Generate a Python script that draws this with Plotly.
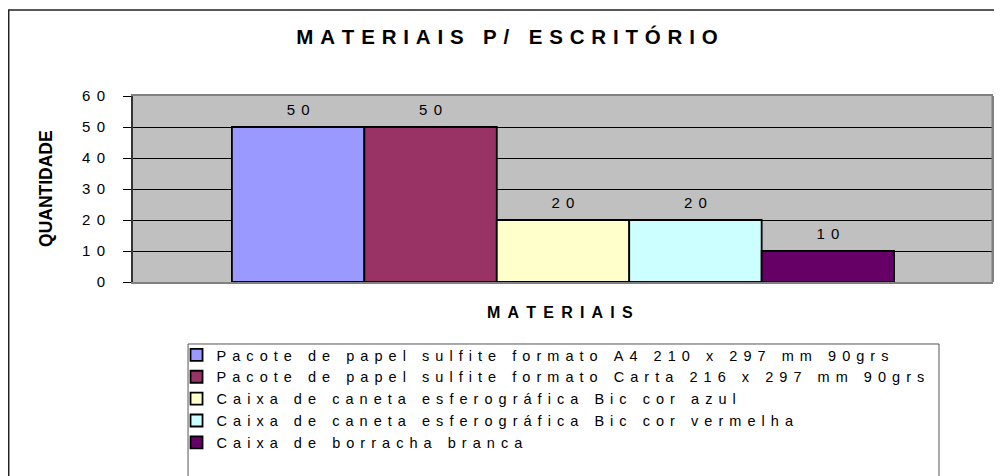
import plotly.graph_objects as go

# Dados do grafico
categoria = ["MATERIAIS"]
materiais = [
    "Pacote de papel sulfite formato A4 210 x 297 mm 90grs",
    "Pacote de papel sulfite formato Carta 216 x 297 mm 90grs",
    "Caixa de caneta esferográfica Bic cor azul",
    "Caixa de caneta esferográfica Bic cor vermelha",
    "Caixa de borracha branca",
]
quantidades = [50, 50, 20, 20, 10]
cores = ["#9999FF", "#993366", "#FFFFCC", "#CCFFFF", "#660066"]
y_ticks = [0, 10, 20, 30, 40, 50, 60]

titulo = "MATERIAIS P/ ESCRITÓRIO"
titulo_x = "MATERIAIS"
titulo_y = "QUANTIDADE"

FONTE = "Liberation Sans, Arial, sans-serif"
GAP = "\u2005\u2009"      # espacamento entre letras (estilo Excel)
GAP_LEGENDA = "\u2005\u2006"
GAP_TITULO = "\u2004"


def espacado(texto, gap=GAP):
    # imita o espacamento de caracteres do grafico original
    return gap.join("\u00a0" if c == " " else c for c in texto)


fig = go.Figure()

for nome, qtd, cor in zip(materiais, quantidades, cores):
    fig.add_trace(go.Bar(
        x=categoria,
        y=[qtd],
        name=espacado(nome, GAP_LEGENDA),
        marker=dict(color=cor, line=dict(color="black", width=1.8)),
    ))

# rotulos de valor (pontos invisiveis agrupados como as barras)
for qtd in quantidades:
    fig.add_trace(go.Scatter(
        x=categoria,
        y=[qtd],
        mode="markers+text",
        marker=dict(size=12, opacity=0),
        text=[espacado(str(qtd), GAP_LEGENDA)],
        textposition="top center",
        textfont=dict(size=15, color="black", family=FONTE),
        showlegend=False,
        hoverinfo="skip",
        cliponaxis=False,
    ))

fig.update_layout(
    width=1002,
    height=476,
    barmode="group",
    bargap=0.23,
    bargroupgap=0,
    scattermode="group",
    scattergap=0.23,
    paper_bgcolor="white",
    plot_bgcolor="#C0C0C0",
    font=dict(family=FONTE, color="black", size=15),
    margin=dict(l=125, r=17, t=88, b=202, autoexpand=False),
    title=dict(
        text=espacado(titulo, GAP_TITULO),
        font=dict(size=20.5, weight="bold", family=FONTE, color="black"),
        x=0.498, xanchor="center",
        y=1 - 29 / 476, yanchor="middle",
    ),
    xaxis=dict(
        showticklabels=False,
        ticks="",
        showline=True,
        mirror=True,
        linecolor="#808080",
        linewidth=2,
        showgrid=False,
    ),
    yaxis=dict(
        range=[0, 60],
        tickvals=y_ticks,
        ticktext=[espacado(str(v), GAP_LEGENDA) for v in y_ticks],
        tickfont=dict(size=15, family=FONTE, color="black"),
        ticks="outside",
        ticklen=8,
        tickwidth=1,
        tickcolor="black",
        ticklabelstandoff=15,
        showline=True,
        linecolor="#333333",
        linewidth=2,
        showgrid=True,
        gridcolor="black",
        gridwidth=1,
        zeroline=False,
    ),
    legend=dict(
        xref="container", yref="container",
        x=0.1682, y=1 - 331 / 476,
        xanchor="left", yanchor="top",
        font=dict(size=14.5, family=FONTE, color="black"),
        bgcolor="rgba(0,0,0,0)",
        borderwidth=0,
        traceorder="normal",
    ),
    showlegend=True,
)

# titulos dos eixos
fig.add_annotation(
    text=titulo_y, textangle=-90,
    xref="paper", yref="paper", x=-0.1006, y=0.5027,
    xanchor="center", yanchor="middle", showarrow=False,
    font=dict(size=17.5, weight="bold", family=FONTE, color="black"),
)
fig.add_annotation(
    text=espacado(titulo_x), xref="paper", yref="paper",
    x=0.4965, y=-0.164, xanchor="center", yanchor="middle", showarrow=False,
    font=dict(size=16, weight="bold", family=FONTE, color="black"),
)

# borda direita da area do grafico
fig.add_shape(type="line", xref="paper", yref="paper", x0=1, x1=1, y0=0, y1=1,
              line=dict(color="#808080", width=3))
# moldura do grafico
fig.add_shape(type="rect", xref="paper", yref="paper",
              x0=-0.1445, x1=1.03, y0=-1.118, y1=1.4624,
              line=dict(color="#222222", width=1.5))
# caixa da legenda
fig.add_shape(type="rect", xref="paper", yref="paper",
              x0=0.064, x1=0.9372, y0=-1.1, y1=-0.3333,
              line=dict(color="#555555", width=1))

fig.write_html("out.html")
